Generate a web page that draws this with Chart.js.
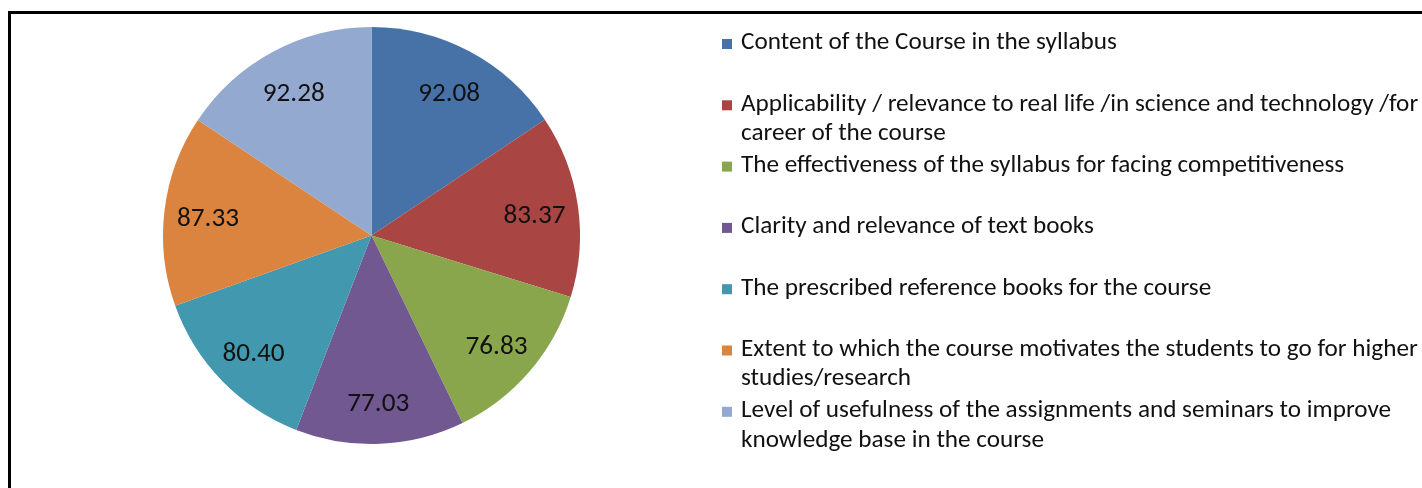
<!DOCTYPE html>
<html>
<head>
<meta charset="utf-8">
<style>
  html, body { margin: 0; padding: 0; background: #ffffff; }
  #wrap { width: 1422px; height: 488px; }
</style>
<script src="https://cdn.jsdelivr.net/npm/chart.js@4/dist/chart.umd.min.js"></script>
</head>
<body>
<div id="wrap"><canvas id="feedbackPie" width="1422" height="488"></canvas></div>
<script>
(function () {
  "use strict";

  // categories (multi-line ones are split the way the legend wraps them)
  var labels = [
    "Content of the Course in the syllabus",
    ["Applicability / relevance to real life /in science and technology /for", "career of the course"],
    "The effectiveness of the syllabus for facing competitiveness",
    "Clarity and relevance of text books",
    "The prescribed reference books for the course",
    ["Extent to which the course motivates the students to go for higher", "studies/research"],
    ["Level of usefulness of the assignments and seminars to improve", "knowledge base in the course"],
  ];
  var values = [92.08, 83.37, 76.83, 77.03, 80.40, 87.33, 92.28];
  var valueLabels = ["92.08", "83.37", "76.83", "77.03", "80.40", "87.33", "92.28"];
  var colors = ["#4672a8", "#a94542", "#8aa64d", "#715890", "#4198af", "#db843f", "#93a9cf"];

  var fontFamily = "'Liberation Sans Narrow', 'Arial Narrow', Carlito, Calibri, Lato, 'Open Sans', sans-serif";

  // frame + value labels + wrapped legend, drawn on the chart canvas
  var decorations = {
    id: "decorations",
    afterDraw: function (chart) {
      var ctx = chart.ctx;
      ctx.save();

      // black frame (top and left only, the picture is cropped)
      ctx.fillStyle = "#000000";
      ctx.fillRect(8, 11, 1414, 3);
      ctx.fillRect(8, 11, 3, 477);

      // value labels inside slices
      var meta = chart.getDatasetMeta(0);
      ctx.fillStyle = "#111111";
      ctx.font = "20px " + fontFamily;
      var lblSize = 20 * 62 / ctx.measureText("92.08").width;
      ctx.font = lblSize.toFixed(1) + "px " + fontFamily;
      ctx.textAlign = "center";
      ctx.textBaseline = "middle";
      meta.data.forEach(function (arc, i) {
        var p = arc.getProps(["x", "y", "startAngle", "endAngle", "outerRadius"], true);
        var mid = (p.startAngle + p.endAngle) / 2;
        var r = p.outerRadius * 0.79;
        ctx.fillText(valueLabels[i], p.x + Math.cos(mid) * r, p.y + Math.sin(mid) * r + 4);
      });

      // legend: fit font so the longest line spans ~676px
      ctx.font = "20px " + fontFamily;
      var longest = ctx.measureText(labels[5][0]).width;
      var size = Math.max(14, Math.min(26, 20 * 676 / longest));
      ctx.font = size.toFixed(1) + "px " + fontFamily;
      ctx.textAlign = "left";
      ctx.textBaseline = "middle";
      var x0 = 722, top = 43, step = 61.3, lineH = 29.5;
      labels.forEach(function (lab, i) {
        var y = top + i * step;
        ctx.fillStyle = colors[i];
        ctx.fillRect(x0, y - 4, 10, 10);
        ctx.fillStyle = "#111111";
        var lines = Array.isArray(lab) ? lab : [lab];
        lines.forEach(function (ln, k) {
          ctx.fillText(ln, x0 + 19, y + k * lineH);
        });
      });

      ctx.restore();
    },
  };

  new Chart(document.getElementById("feedbackPie").getContext("2d"), {
    type: "pie",
    data: {
      labels: labels,
      datasets: [
        {
          data: values,
          backgroundColor: colors,
          borderWidth: 0,
        },
      ],
    },
    options: {
      responsive: false,
      animation: false,
      layout: {
        padding: { top: 27, right: 842, bottom: 44, left: 163 },
      },
      plugins: {
        legend: { display: false },
        tooltip: { enabled: false },
      },
    },
    plugins: [decorations],
  });
})();
</script>
</body>
</html>
